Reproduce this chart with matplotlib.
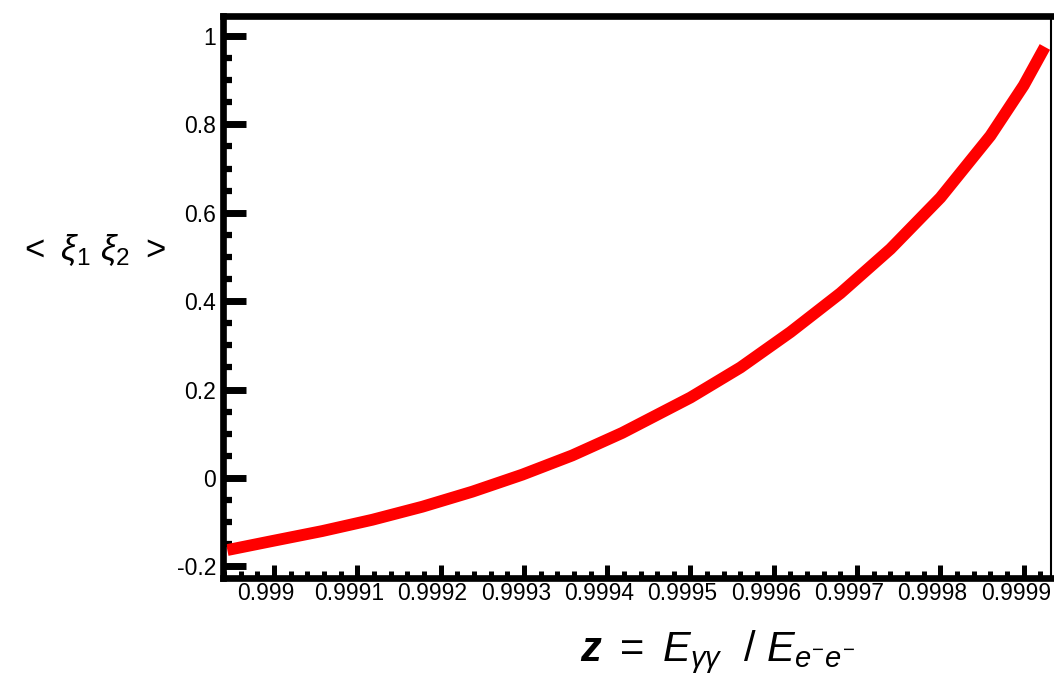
import matplotlib
matplotlib.use("Agg")
import matplotlib.pyplot as plt
import matplotlib.transforms as mtransforms
from matplotlib.ticker import MultipleLocator, FixedLocator

plt.rcParams['font.family'] = ['Liberation Sans', 'DejaVu Sans']
plt.rcParams['mathtext.fontset'] = 'custom'
plt.rcParams['mathtext.rm'] = 'Liberation Sans'
plt.rcParams['mathtext.it'] = 'Liberation Sans:italic'
plt.rcParams['mathtext.bf'] = 'Liberation Sans:bold:italic'

# Data
z_values = [0.998944, 0.998998, 0.999058, 0.999118, 0.999178, 0.999238,
            0.999298, 0.999358, 0.999418, 0.9995, 0.99956,
            0.99962, 0.99968, 0.99974, 0.9998, 0.99986, 0.9999, 0.9999254]
xi_values = [-0.163, -0.1425, -0.120, -0.0945, -0.065, -0.031,
             0.0075, 0.051, 0.102, 0.182, 0.250,
             0.330, 0.418, 0.518, 0.634, 0.774, 0.888, 0.975]
x_ticks = [0.999, 0.9991, 0.9992, 0.9993, 0.9994, 0.9995, 0.9996, 0.9997, 0.9998, 0.9999]
x_tick_labels = ['0.999', '0.9991', '0.9992', '0.9993', '0.9994', '0.9995',
                 '0.9996', '0.9997', '0.9998', '0.9999']
y_ticks = [-0.2, 0, 0.2, 0.4, 0.6, 0.8, 1]
y_tick_labels = ['-0.2', '0', '0.2', '0.4', '0.6', '0.8', '1']

W, H = 1054, 687
fig = plt.figure(figsize=(W / 100, H / 100), dpi=100)
ax = fig.add_axes([223 / W, 1 - 578 / H, (1050.7 - 223) / W, (578 - 16) / H])

ax.plot(z_values, xi_values, color='#ff0000', lw=8.5, solid_capstyle='butt',
        solid_joinstyle='round')

ax.set_xlim(0.9989388, 0.9999324)
ax.set_ylim(-0.2262, 1.045)

ax.xaxis.set_major_locator(FixedLocator(x_ticks))
ax.set_xticklabels(x_tick_labels)
ax.xaxis.set_minor_locator(MultipleLocator(0.00002))
ax.yaxis.set_major_locator(FixedLocator(y_ticks))
ax.set_yticklabels(y_tick_labels)
ax.yaxis.set_minor_locator(MultipleLocator(0.05))

for s in ['left', 'bottom', 'top']:
    ax.spines[s].set_linewidth(4.8)
ax.spines['right'].set_linewidth(1.5)

ax.tick_params(axis='y', which='major', direction='in', length=16.5, width=5,
               labelsize=16.5, pad=5, right=False)
ax.tick_params(axis='y', which='minor', direction='in', length=6.5, width=4.5, right=False)
ax.tick_params(axis='x', which='major', direction='in', length=9.5, width=3.6,
               labelsize=16.5, pad=3, top=False)
ax.tick_params(axis='x', which='minor', direction='in', length=5, width=3.6, top=False)

shift = mtransforms.ScaledTranslation(-8 / 100, 0, fig.dpi_scale_trans)
for lbl in ax.get_xticklabels():
    lbl.set_transform(lbl.get_transform() + shift)

fig.text(93 / W, 1 - 250 / H, r'$<\ \xi_1\ \xi_2\ >$', fontsize=25,
         ha='center', va='center')
fig.text(718 / W, 1 - 652 / H, r'$\mathbf{z}\ =\ E_{\gamma\gamma}\ \ /\ E_{e^{-}e^{-}}$',
         fontsize=30, ha='center', va='center')

fig.savefig('out.png', dpi=100)
